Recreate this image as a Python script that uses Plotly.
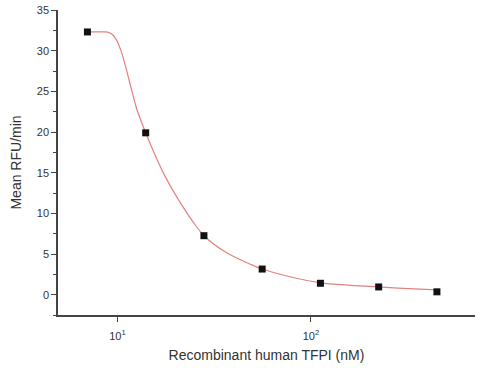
import plotly.graph_objects as go

# Measured data points
conc_nM = [7, 14, 28, 56, 112, 224, 448]
mean_rfu = [32.3, 19.9, 7.25, 3.15, 1.4, 0.95, 0.35]

# Fitted curve
fit_x = [7.0, 8.6, 9.1, 9.5, 9.9, 10.4, 11.1, 11.8, 12.6, 14.0, 15.9, 17.5,
         20.3, 24.7, 28, 36.7, 48.5, 56, 78, 112, 160, 224, 320, 448]
fit_y = [32.3, 32.3, 32.2, 31.9, 31.3, 30.1, 27.8, 25.3, 22.8, 19.9, 16.8, 14.7,
         12.0, 8.9, 7.25, 5.15, 3.75, 3.15, 2.2, 1.45, 1.15, 0.95, 0.75, 0.6]

x_tickvals = [10, 100]
x_ticktext = ["10<sup>1</sup>", "10<sup>2</sup>"]
y_tickvals = [0, 5, 10, 15, 20, 25, 30, 35]

fig = go.Figure()
fig.add_trace(go.Scatter(x=fit_x, y=fit_y, mode="lines",
                         line=dict(color="#e58080", width=1.2, shape="spline", smoothing=0.8),
                         hoverinfo="skip", showlegend=False))
fig.add_trace(go.Scatter(x=conc_nM, y=mean_rfu, mode="markers",
                         marker=dict(symbol="square", size=7, color="#111111"),
                         showlegend=False))

axis_font = dict(family="Liberation Sans, Arial, sans-serif", size=11, color="#333333")
fig.update_layout(
    width=489, height=372,
    margin=dict(l=58, r=14, t=10, b=57),
    paper_bgcolor="white", plot_bgcolor="white",
    font=dict(family="Liberation Sans, Arial, sans-serif", color="#333333"),
    xaxis=dict(type="log", range=[0.693, 2.848], tickvals=x_tickvals, ticktext=x_ticktext,
               automargin=False, ticklabelstandoff=5,
               showgrid=False, zeroline=False, showline=True, linecolor="#444444", linewidth=1.5,
               ticks="outside", ticklen=5, tickcolor="#444444", tickfont=axis_font,
               title=dict(text="Recombinant human TFPI (nM)", font=dict(size=14, color="#333333"), standoff=9)),
    yaxis=dict(range=[-2.5, 35], tickvals=y_tickvals,
               automargin=False, ticklabeloverflow="allow",
               showgrid=False, zeroline=False, showline=True, linecolor="#444444", linewidth=1.5,
               ticks="outside", ticklen=5, tickcolor="#444444", tickfont=axis_font,
               minor=dict(dtick=2.5, ticks="outside", ticklen=3, tickcolor="#444444"),
               title=dict(text="Mean RFU/min", font=dict(size=14, color="#333333"), standoff=12)),
)

fig.write_html("out.html", config={"displayModeBar": False},
               post_script="document.body.style.margin='0';")
